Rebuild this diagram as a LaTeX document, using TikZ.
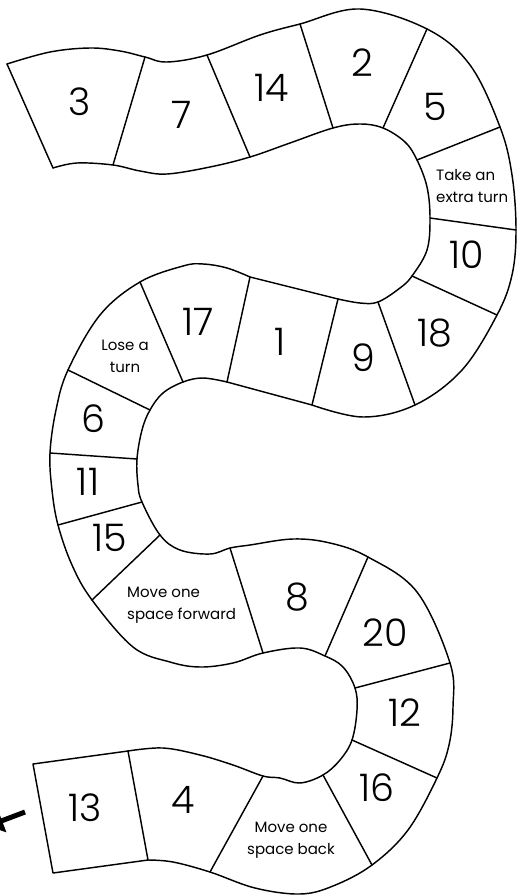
\documentclass[tikz,border=0pt]{standalone}
\usepackage{fontspec}
\setmainfont{Poppins}[UprightFont=* Light]
\newfontfamily\notefont{Poppins}
\usetikzlibrary{arrows.meta}
\tikzset{
 edge/.style={line width=1.45pt, line join=round, line cap=round},
 num/.style={font=\fontsize{38}{40}\selectfont, inner sep=0pt},
 note/.style={font=\notefont\fontsize{15}{22}\selectfont, inner sep=0pt, align=center},
 notel/.style={note, align=left, anchor=west},
 pointer/.style={line width=5pt, -{Triangle[width=24pt,length=15pt]}}
}
\begin{document}
\begin{tikzpicture}[x=1pt,y=-1pt]
\useasboundingbox (0,0) rectangle (517,896);
% ends
\coordinate (a0) at (7,64);
\coordinate (b0) at (53,168);
\coordinate (a1) at (53,873);
\coordinate (b1) at (33,764);
% dividers: t = one edge, u = other edge
\coordinate (t37) at (145,57);   \coordinate (u37) at (113,165);
\coordinate (t714) at (207,55);  \coordinate (u714) at (250,157);
\coordinate (t142) at (300,24);  \coordinate (u142) at (333,128);
\coordinate (t25) at (427,29);   \coordinate (u25) at (383,128);
\coordinate (t5T) at (500,127);  \coordinate (u5T) at (417,160);
\coordinate (tT10) at (516,230); \coordinate (uT10) at (430,218);
\coordinate (t1018) at (497,315);\coordinate (u1018) at (412,276);
\coordinate (t189) at (415,405); \coordinate (u189) at (378,302);
\coordinate (t91) at (312,405);  \coordinate (u91) at (338,299);
\coordinate (t117) at (227,382); \coordinate (u117) at (250,277);
\coordinate (t17L) at (183,382); \coordinate (u17L) at (140,282);
\coordinate (tL6) at (150,410);  \coordinate (uL6) at (68,370);
\coordinate (t611) at (137,459); \coordinate (u611) at (50,453);
\coordinate (t1115) at (142,502);\coordinate (u1115) at (58,525);
\coordinate (t15M) at (160,535); \coordinate (u15M) at (92,600);
\coordinate (tM8) at (230,548);  \coordinate (uM8) at (263,653);
\coordinate (t820) at (368,557); \coordinate (u820) at (325,656);
\coordinate (t2012) at (450,663);\coordinate (u2012) at (355,688);
\coordinate (t1216) at (437,778);\coordinate (u1216) at (352,740);
\coordinate (t16B) at (372,865); \coordinate (u16B) at (323,775);
\coordinate (tB4) at (210,872);  \coordinate (uB4) at (263,776);
\coordinate (t413) at (148,860); \coordinate (u413) at (128,751);
\coordinate (arrtail) at (25,812);
\coordinate (arrtip) at (-12,826);

% edge one
\draw[edge] plot[smooth, tension=0.6] coordinates {(a0) (50,52) (90,48) (120,51) (t37) (167,62) (t714) (260,35) (t142) (360,9) (t25) (470,65) (t5T) (512,175) (tT10) (512,275) (t1018) (462,370) (t189) (363,417) (t91)};
\draw[edge] (t91) -- (t117);
\draw[edge] plot[smooth, tension=0.6] coordinates {(t117) (203,378) (t17L) (163,393) (tL6) (142,430) (t611) (138,485) (t1115) (t15M) (180,550) (210,554) (tM8) (250,545) (293,539) (330,543) (t820) (417,592) (t2012) (453,707) (449,745) (t1216) (408,830) (t16B) (333,886) (300,894) (255,888) (tB4) (173,862) (t413)};
\draw[edge] (t413) -- (a1) -- (b1) -- (u413);
% edge two
\draw[edge] (a0) -- (b0);
\draw[edge] plot[smooth, tension=0.6] coordinates {(b0) (77,163) (u37) (140,171) (167,174) (210,167) (u714) (290,143) (u142) (360,124) (u25) (405,142) (u5T) (427,187) (uT10) (427,250) (u1018) (400,288) (u189) (360,303) (u91)};
\draw[edge] (u91) -- (u117);
\draw[edge] plot[smooth, tension=0.6] coordinates {(u117) (227,268) (203,264) (183,266) (u17L) (100,315) (uL6) (56,410) (u611) (52,490) (u1115) (72,565) (u15M) (133,647) (170,662) (200,667) (233,663) (uM8) (300,648) (u820) (343,667) (u2012) (357,710) (u1216) (340,760) (u16B) (300,783) (280,778) (uB4) (233,765) (200,755) (163,748) (u413)};
% dividers
\foreach \p in {37,714,142,25,5T,T10,1018,189,91,117,17L,L6,611,1115,15M,M8,820,2012,1216,16B,B4,413}
  \draw[edge] (t\p) -- (u\p);

% labels
\node[num] (n3) at (80,102) {3};
\node[num] (n7) at (182,115) {7};
\node[num] (n14) at (272,88) {14};
\node[num] (n2) at (362,63) {2};
\node[num] (n5) at (435,107) {5};
\node[notel] (ntake) at (436,186) {Take an\\extra turn};
\node[num] (n10) at (467,255) {10};
\node[num] (n18) at (435,333) {18};
\node[num] (n9) at (363,358) {9};
\node[num] (n1) at (280,342) {1};
\node[num] (n17) at (198,322) {17};
\node[note] (nlose) at (125,356) {Lose a\\turn};
\node[num] (n6) at (93,419) {6};
\node[num] (n11) at (88,482) {11};
\node[num] (n15) at (110,538) {15};
\node[notel] (nfwd) at (127,605) {Move one\\space forward};
\node[num] (n8) at (297,597) {8};
\node[num] (n20) at (385,633) {20};
\node[num] (n12) at (405,713) {12};
\node[num] (n16) at (377,788) {16};
\node[note] (nback) at (291,840) {Move one\\space back};
\node[num] (n4) at (183,800) {4};
\node[num] (n13) at (85,808) {13};

\draw[pointer] (arrtail) -- (arrtip);
\end{tikzpicture}
\end{document}
